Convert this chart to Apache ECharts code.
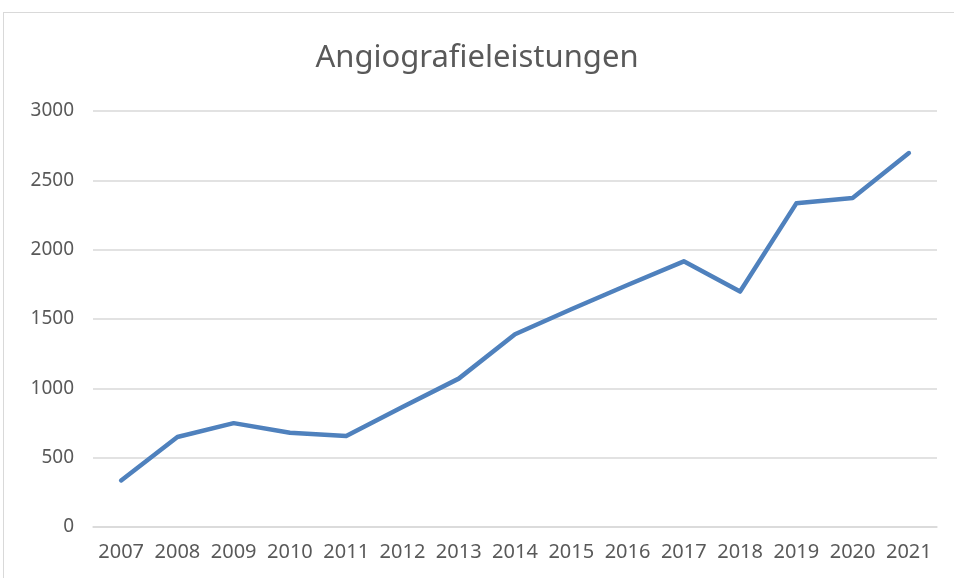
<!DOCTYPE html>
<html>
<head>
<meta charset="utf-8">
<script src="https://cdn.jsdelivr.net/npm/echarts@6/dist/echarts.min.js"></script>
<style>
  html, body { margin: 0; padding: 0; background: #fff; }
  #main { width: 954px; height: 578px; position: relative; }
  #frame { position: absolute; left: 3px; top: 12px; width: 960px; height: 580px; border: 1px solid #d9d9d9; box-sizing: border-box; pointer-events: none; }
</style>
</head>
<body>
<div id="main"></div>
<div id="frame"></div>
<script>
var years = ['2007', '2008', '2009', '2010', '2011', '2012', '2013', '2014', '2015', '2016', '2017', '2018', '2019', '2020', '2021'];
var leistungen = [336, 649, 749, 680, 656, 865, 1070, 1390, 1570, 1745, 1916, 1698, 2334, 2373, 2697];
var titleText = 'Angiografieleistungen';

var chart = echarts.init(document.getElementById('main'));
chart.setOption({
    animation: false,
    title: {
        text: titleText,
        left: 'center',
        top: 38,
        textStyle: {
            fontFamily: 'Noto Sans',
            fontSize: 31,
            fontWeight: 'normal',
            color: '#595959'
        }
    },
    grid: {
        left: 93,
        right: 17,
        top: 111,
        bottom: 51
    },
    xAxis: {
        type: 'category',
        data: years,
        boundaryGap: true,
        axisLine: { lineStyle: { color: '#d9d9d9', width: 1.5 } },
        axisTick: { show: false },
        axisLabel: {
            interval: 0,
            hideOverlap: false,
            fontFamily: 'Noto Sans',
            fontSize: 20,
            color: '#595959',
            margin: 15
        }
    },
    yAxis: {
        type: 'value',
        min: 0,
        max: 3000,
        interval: 500,
        axisLine: { show: false },
        axisTick: { show: false },
        splitLine: { lineStyle: { color: '#d9d9d9', width: 1.5 } },
        axisLabel: {
            fontFamily: 'Noto Sans',
            fontSize: 19,
            color: '#595959',
            margin: 19,
            formatter: function (v) { return String(v); }
        }
    },
    series: [{
        type: 'line',
        data: leistungen,
        symbol: 'none',
        lineStyle: { color: '#4f81bd', width: 4.5, cap: 'round', join: 'round' }
    }]
});
</script>
</body>
</html>
